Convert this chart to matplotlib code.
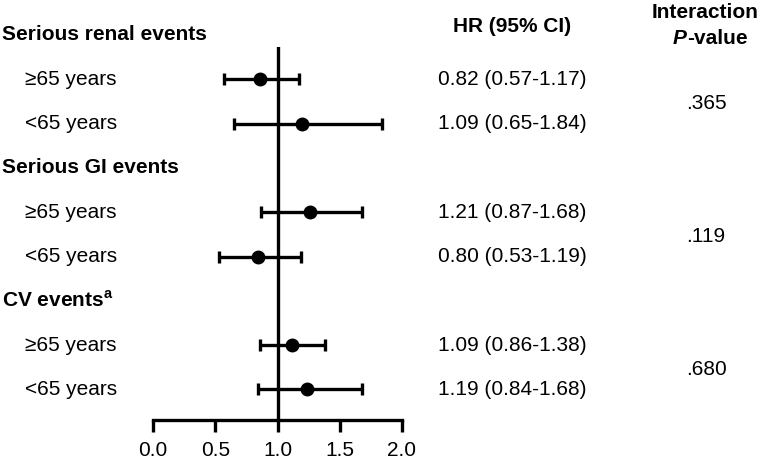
import numpy as np
import matplotlib.pyplot as plt
import matplotlib.transforms as mtransforms

plt.rcParams['font.family'] = ['Liberation Sans', 'DejaVu Sans']
plt.rcParams['mathtext.fontset'] = 'custom'
plt.rcParams['mathtext.rm'] = 'Liberation Sans'
plt.rcParams['mathtext.bf'] = 'Liberation Sans:bold'

# groups and subgroups
groups = ["Serious renal events", "Serious GI events", r"CV events$^{\mathbf{a}}$"]
subgroups = ["\u226565 years", "<65 years"]

# point estimates as drawn, and CI bounds
point = [0.86, 1.20, 1.26, 0.84, 1.12, 1.24]
lower = [0.57, 0.65, 0.87, 0.53, 0.86, 0.84]
upper = [1.17, 1.84, 1.68, 1.19, 1.38, 1.68]
hr_text = ["0.82 (0.57-1.17)", "1.09 (0.65-1.84)",
           "1.21 (0.87-1.68)", "0.80 (0.53-1.19)",
           "1.09 (0.86-1.38)", "1.19 (0.84-1.68)"]
p_values = [".365", ".119", ".680"]
x_ticks = [0.0, 0.5, 1.0, 1.5, 2.0]

W, H = 760, 465
fig = plt.figure(figsize=(W / 100, H / 100), dpi=100)
# plot area: x 0..2 between px 153 and 402, bottom spine at px 420
ax = fig.add_axes([153 / W, 1 - 420 / H, (402 - 153) / W, (420 - 47) / H])
ax.set_xlim(0, 2)
ax.set_ylim(8.69, 0.271)

# row layout
header_rows = [0, 3, 6]
sub_rows = [1, 2, 4, 5, 7, 8]

pt = np.array(point)
err = np.array([pt - np.array(lower), np.array(upper) - pt])
ax.errorbar(pt, sub_rows, xerr=err, fmt='o', color='black', ms=9,
            elinewidth=2.4, capsize=4.5, capthick=2.4, clip_on=False, zorder=3)
ax.axvline(1.0, color='black', lw=2.4, zorder=2)

for s in ['top', 'right', 'left']:
    ax.spines[s].set_visible(False)
ax.spines['bottom'].set_linewidth(2.4)
ax.set_yticks([])
ax.set_xticks(x_ticks)
ax.set_xticklabels(["%.1f" % t for t in x_ticks])
fs = 15
ax.tick_params(axis='x', direction='out', length=8.5, width=2.4,
               labelsize=fs, pad=6.5)

tr = mtransforms.blended_transform_factory(fig.transFigure, ax.transData)
for g, r in zip(groups, header_rows):
    ax.text(2 / W, r, g, transform=tr, fontsize=fs, fontweight='bold',
            va='center', ha='left')
for i, r in enumerate(sub_rows):
    ax.text(25 / W, r, subgroups[i % 2], transform=tr, fontsize=fs,
            va='center', ha='left')
    ax.text(512 / W, r, hr_text[i], transform=tr, fontsize=fs,
            va='center', ha='center')
for j, p in enumerate(p_values):
    r = (sub_rows[2 * j] + sub_rows[2 * j + 1]) / 2
    ax.text(706 / W, r + 0.04, p, transform=tr, fontsize=fs,
            va='center', ha='center')

fig.text(512 / W, 1 - 27 / H, "HR (95% CI)", fontsize=fs, fontweight='bold',
         va='center', ha='center')
fig.text(705 / W, 1 - 13 / H, "Interaction", fontsize=fs, fontweight='bold',
         va='center', ha='center')
p_txt = fig.text(673 / W, 1 - 38 / H, "P", fontsize=fs, fontweight='bold',
                 fontstyle='italic', va='center', ha='left')
ax.annotate("-value", xy=(1, 0), xycoords=p_txt, fontsize=fs,
            fontweight='bold', va='bottom', ha='left', annotation_clip=False)

fig.savefig("out.png", dpi=100)
